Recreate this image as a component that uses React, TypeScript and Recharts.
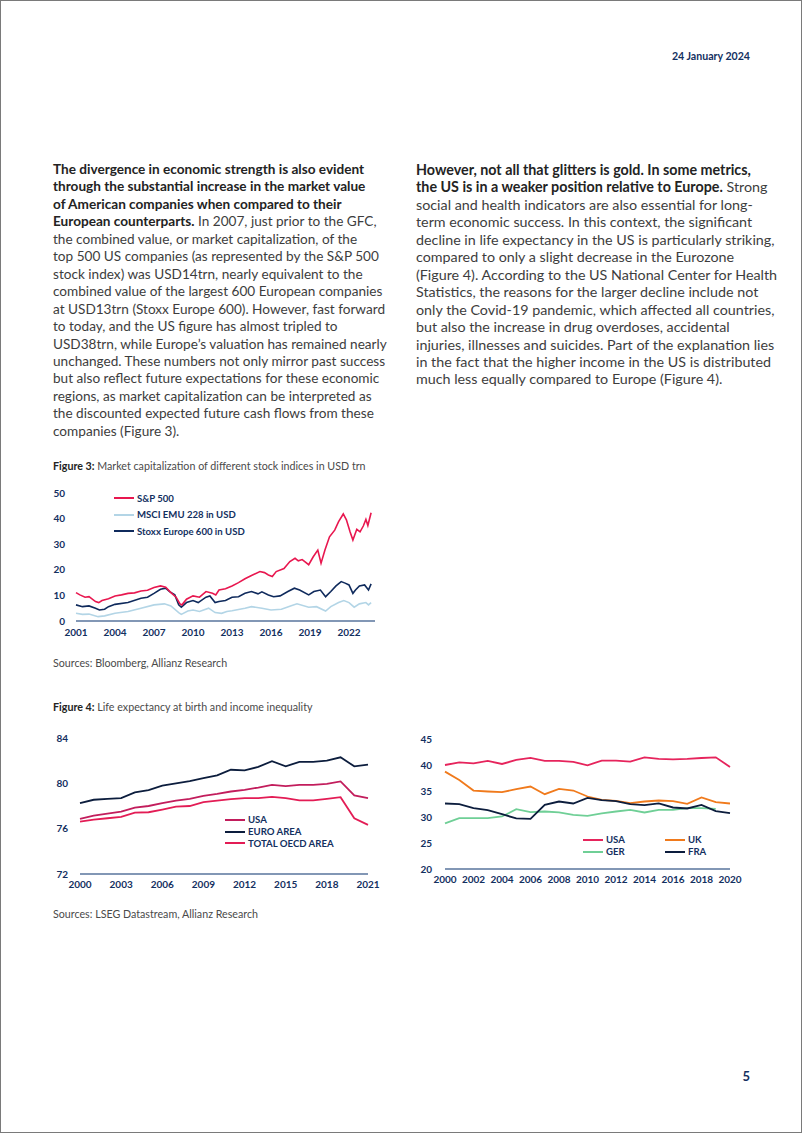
import React from 'react'
import { LineChart, Line, XAxis, YAxis } from 'recharts'

// Figure 3: market cap in USD trn, [year, value]
const spx: [number, number][] = [
  [2001.0, 11.1], [2001.3, 10.2], [2001.7, 9.3], [2002.0, 9.5], [2002.5, 7.6], [2002.75, 7.2],
  [2003.0, 8.0], [2003.5, 8.7], [2004.0, 9.8], [2004.5, 10.2], [2005.0, 10.8], [2005.5, 11.0],
  [2006.0, 11.7], [2006.5, 12.0], [2007.0, 13.1], [2007.5, 13.7], [2007.9, 13.2], [2008.3, 11.1],
  [2008.7, 9.3], [2009.0, 6.7], [2009.15, 6.3], [2009.5, 8.5], [2010.0, 9.8], [2010.5, 9.3],
  [2011.0, 11.5], [2011.5, 10.8], [2011.75, 10.2], [2012.0, 12.1], [2012.5, 12.6], [2013.0, 13.7],
  [2013.5, 15.0], [2014.0, 16.5], [2014.5, 17.8], [2015.15, 19.3], [2015.5, 18.9], [2015.8, 18.0],
  [2016.1, 17.4], [2016.4, 19.3], [2017.0, 20.5], [2017.45, 23.2], [2017.85, 24.5], [2018.1, 23.5],
  [2018.4, 24.0], [2018.6, 23.2], [2018.9, 22.0], [2019.25, 25.1], [2019.6, 27.7], [2019.85, 22.6],
  [2020.15, 27.7], [2020.5, 32.9], [2020.9, 35.5], [2021.2, 38.8], [2021.56, 41.8], [2021.8, 39.5],
  [2022.08, 34.9], [2022.3, 31.6], [2022.6, 35.8], [2022.85, 34.8], [2023.1, 37.1], [2023.3, 39.7],
  [2023.45, 37.3], [2023.7, 42.3],
]

const msci: [number, number][] = [
  [2001.0, 3.0], [2001.5, 2.6], [2002.0, 2.7], [2002.7, 1.7], [2003.2, 2.0], [2004.0, 3.0],
  [2005.0, 3.7], [2006.0, 5.0], [2007.0, 6.3], [2007.8, 6.7], [2008.3, 5.9], [2008.9, 3.3],
  [2009.1, 2.6], [2009.6, 3.9], [2010.0, 4.3], [2010.5, 3.7], [2011.2, 5.0], [2011.7, 3.3],
  [2012.2, 3.0], [2012.6, 3.7], [2013.0, 4.0], [2014.0, 5.0], [2014.5, 5.6], [2015.3, 5.0],
  [2016.0, 4.3], [2016.8, 4.6], [2017.5, 5.9], [2018.0, 6.7], [2018.9, 5.4], [2019.5, 5.6],
  [2020.2, 3.9], [2020.6, 5.6], [2021.2, 7.2], [2021.6, 8.0], [2022.0, 7.2], [2022.4, 5.4],
  [2022.8, 6.7], [2023.3, 7.2], [2023.5, 6.3], [2023.7, 7.2],
]

const stoxx: [number, number][] = [
  [2001.0, 6.3], [2001.5, 5.6], [2002.0, 5.9], [2002.5, 5.0], [2002.8, 4.3], [2003.2, 4.6],
  [2003.5, 5.6], [2004.0, 6.5], [2005.0, 7.2], [2006.0, 8.9], [2006.5, 9.3], [2007.0, 10.8],
  [2007.5, 12.4], [2007.9, 12.8], [2008.2, 11.5], [2008.6, 10.2], [2008.9, 6.3], [2009.1, 5.4],
  [2009.5, 7.2], [2010.0, 8.0], [2010.4, 7.2], [2011.0, 9.3], [2011.3, 9.8], [2011.7, 7.2],
  [2012.0, 7.6], [2012.5, 8.0], [2013.0, 9.3], [2013.5, 9.5], [2014.0, 10.8], [2014.5, 11.5],
  [2015.0, 10.6], [2015.3, 11.4], [2015.8, 10.2], [2016.2, 9.5], [2016.7, 9.8], [2017.3, 11.5],
  [2017.8, 12.8], [2018.2, 12.1], [2018.9, 10.2], [2019.3, 11.5], [2019.8, 12.1], [2020.2, 9.5],
  [2020.6, 11.5], [2021.0, 13.7], [2021.4, 15.4], [2021.7, 14.8], [2022.0, 14.1], [2022.3, 10.8],
  [2022.5, 12.1], [2022.8, 13.7], [2023.2, 14.1], [2023.5, 12.1], [2023.7, 14.5],
]

const fig3Ticks = [2001, 2004, 2007, 2010, 2013, 2016, 2019, 2022]

// Figure 4 left: life expectancy at birth
const lifeYears = [2000, 2001, 2002, 2003, 2004, 2005, 2006, 2007, 2008, 2009, 2010,
  2011, 2012, 2013, 2014, 2015, 2016, 2017, 2018, 2019, 2020, 2021]
const lifeUsa = [76.86, 77.16, 77.33, 77.5, 77.86, 78.0, 78.25, 78.48, 78.63, 78.9, 79.07,
  79.28, 79.43, 79.63, 79.87, 79.75, 79.87, 79.87, 79.96, 80.17, 78.93, 78.7]
const lifeEuro = [78.25, 78.55, 78.63, 78.7, 79.2, 79.4, 79.8, 80.0, 80.2, 80.45, 80.7,
  81.2, 81.15, 81.45, 81.95, 81.5, 81.9, 81.9, 82.0, 82.3, 81.5, 81.65]
const lifeOecd = [76.63, 76.8, 76.92, 77.04, 77.42, 77.45, 77.69, 77.95, 78.0, 78.34, 78.48,
  78.6, 78.7, 78.7, 78.8, 78.7, 78.5, 78.5, 78.63, 78.78, 76.92, 76.33]
const lifeTicksX = [2000, 2003, 2006, 2009, 2012, 2015, 2018, 2021]

// Figure 4 right: income inequality
const giniYears = [2000, 2001, 2002, 2003, 2004, 2005, 2006, 2007, 2008, 2009, 2010,
  2011, 2012, 2013, 2014, 2015, 2016, 2017, 2018, 2019, 2020]
const giniUsa = [40.0, 40.5, 40.33, 40.78, 40.2, 40.97, 41.35, 40.78, 40.78, 40.6, 39.95,
  40.84, 40.84, 40.65, 41.48, 41.16, 41.1, 41.16, 41.35, 41.48, 39.63]
const giniUk = [38.73, 37.13, 35.09, 34.9, 34.77, 35.35, 35.86, 34.39, 35.4, 35.09, 33.94,
  33.3, 33.1, 32.66, 32.98, 33.17, 33.04, 32.53, 33.75, 32.85, 32.6]
const giniGer = [28.76, 29.78, 29.78, 29.78, 30.1, 31.5, 30.93, 31.06, 30.87, 30.42, 30.23,
  30.68, 31.06, 31.38, 30.87, 31.38, 31.38, 31.7, 31.7, 31.57, null]
const giniFra = [32.6, 32.47, 31.7, 31.32, 30.55, 29.72, 29.65, 32.34, 32.98, 32.6, 33.68,
  33.24, 33.04, 32.47, 32.28, 32.6, 31.83, 31.64, 32.34, 31.12, 30.74]
const giniTicksX = [2000, 2002, 2004, 2006, 2008, 2010, 2012, 2014, 2016, 2018, 2020]

const leftText: [string, string][] = [
  ['The divergence in economic strength is also evident', ''],
  ['through the substantial increase in the market value', ''],
  ['of American companies when compared to their', ''],
  ['European counterparts.', ' In 2007, just prior to the GFC,'],
  ['', 'the combined value, or market capitalization, of the'],
  ['', 'top 500 US companies (as represented by the S&P 500'],
  ['', 'stock index) was USD14trn, nearly equivalent to the'],
  ['', 'combined value of the largest 600 European companies'],
  ['', 'at USD13trn (Stoxx Europe 600). However, fast forward'],
  ['', 'to today, and the US figure has almost tripled to'],
  ['', 'USD38trn, while Europe\u2019s valuation has remained nearly'],
  ['', 'unchanged. These numbers not only mirror past success'],
  ['', 'but also reflect future expectations for these economic'],
  ['', 'regions, as market capitalization can be interpreted as'],
  ['', 'the discounted expected future cash flows from these'],
  ['', 'companies (Figure 3).'],
]

const rightText: [string, string][] = [
  ['However, not all that glitters is gold. In some metrics,', ''],
  ['the US is in a weaker position relative to Europe.', ' Strong'],
  ['', 'social and health indicators are also essential for long-'],
  ['', 'term economic success. In this context, the significant'],
  ['', 'decline in life expectancy in the US is particularly striking,'],
  ['', 'compared to only a slight decrease in the Eurozone'],
  ['', '(Figure 4). According to the US National Center for Health'],
  ['', 'Statistics, the reasons for the larger decline include not'],
  ['', 'only the Covid-19 pandemic, which affected all countries,'],
  ['', 'but also the increase in drug overdoses, accidental'],
  ['', 'injuries, illnesses and suicides. Part of the explanation lies'],
  ['', 'in the fact that the higher income in the US is distributed'],
  ['', 'much less equally compared to Europe (Figure 4).'],
]

const NAVY = '#13305f'
const AXIS = '#58749c'
const FONT = 'Lato, sans-serif'
const tickStyle = { fill: NAVY, fontSize: 10, fontWeight: 700, fontFamily: FONT }

function Paragraph({ lines, left, top, size }: { lines: [string, string][]; left: number; top: number; size: number }) {
  return (
    <div style={{ position: 'absolute', left, top, fontSize: size, lineHeight: '17.45px', color: '#3d3d3d' }}>
      {lines.map(([b, r], i) => (
        <div key={i} style={{ whiteSpace: 'nowrap' }}>
          {b && <span style={{ fontWeight: 700, color: '#232323' }}>{b}</span>}
          {r}
        </div>
      ))}
    </div>
  )
}

type Item = { name: string; color: string }

function LegendBox({ items, left, top, cols = 1, colWidth = 80, rowHeight = 11.6, size = 9.6 }:
  { items: Item[]; left: number; top: number; cols?: number; colWidth?: number; rowHeight?: number; size?: number }) {
  return (
    <div style={{ position: 'absolute', left, top, display: 'grid', gridTemplateColumns: `repeat(${cols}, ${colWidth}px)` }}>
      {items.map(it => (
        <div key={it.name} style={{ display: 'flex', alignItems: 'center', height: rowHeight, fontSize: size, fontWeight: 700, color: NAVY, fontFamily: FONT, whiteSpace: 'nowrap' }}>
          <span style={{ display: 'inline-block', width: 20, height: 2, background: it.color, marginRight: 3 }} />
          {it.name}
        </div>
      ))}
    </div>
  )
}

const toPts = (arr: [number, number][]) => arr.map(([t, v]) => ({ t, v }))

function Figure3() {
  return (
    <LineChart width={345} height={170} margin={{ top: 13, right: 10, bottom: 9, left: 0 }}>
      <XAxis dataKey="t" type="number" domain={[2001, 2024]} ticks={fig3Ticks} allowDuplicatedCategory={false}
        tick={tickStyle} tickLine={false} tickSize={0} tickMargin={8} height={20}
        axisLine={{ stroke: AXIS, strokeWidth: 1.5 }} interval={0} />
      <YAxis type="number" domain={[0, 50]} ticks={[0, 10, 20, 30, 40, 50]} width={36}
        tick={tickStyle} tickLine={false} tickSize={0} tickMargin={11} axisLine={false} />
      <Line data={toPts(msci)} dataKey="v" name="MSCI EMU 228 in USD" stroke="#b3d5e6" strokeWidth={1.6} dot={false} isAnimationActive={false} />
      <Line data={toPts(stoxx)} dataKey="v" name="Stoxx Europe 600 in USD" stroke="#0f2a5c" strokeWidth={1.6} dot={false} isAnimationActive={false} />
      <Line data={toPts(spx)} dataKey="v" name="S&P 500" stroke="#e8174f" strokeWidth={1.6} dot={false} isAnimationActive={false} />
    </LineChart>
  )
}

function FigureLife() {
  const data = lifeYears.map((y, i) => ({ y, usa: lifeUsa[i], euro: lifeEuro[i], oecd: lifeOecd[i] }))
  return (
    <LineChart width={340} height={170} data={data} margin={{ top: 13, right: 12, bottom: 0, left: 0 }}>
      <XAxis dataKey="y" type="number" domain={[2000, 2021]} ticks={lifeTicksX} interval={0}
        tick={tickStyle} tickLine={false} tickSize={0} tickMargin={7} height={21}
        axisLine={{ stroke: AXIS, strokeWidth: 1.5 }} />
      <YAxis type="number" domain={[72, 84]} ticks={[72, 76, 80, 84]} width={40}
        tick={tickStyle} tickLine={false} tickSize={0} tickMargin={12} axisLine={false} />
      <Line dataKey="oecd" stroke="#e31c55" strokeWidth={1.8} dot={false} isAnimationActive={false} />
      <Line dataKey="usa" stroke="#c21d5c" strokeWidth={1.8} dot={false} isAnimationActive={false} />
      <Line dataKey="euro" stroke="#0c1d3d" strokeWidth={1.8} dot={false} isAnimationActive={false} />
    </LineChart>
  )
}

function FigureGini() {
  const data = giniYears.map((y, i) => ({ y, usa: giniUsa[i], uk: giniUk[i], ger: giniGer[i], fra: giniFra[i] }))
  return (
    <LineChart width={340} height={175} data={data} margin={{ top: 14, right: 15, bottom: 11, left: 0 }}>
      <XAxis dataKey="y" type="number" domain={[2000, 2020]} ticks={giniTicksX} interval={0}
        tick={tickStyle} tickLine={false} tickSize={0} tickMargin={7} height={20}
        axisLine={{ stroke: AXIS, strokeWidth: 1.5 }} />
      <YAxis type="number" domain={[20, 45]} ticks={[20, 25, 30, 35, 40, 45]} width={40}
        tick={tickStyle} tickLine={false} tickSize={0} tickMargin={13} axisLine={false} />
      <Line dataKey="ger" stroke="#6fcf96" strokeWidth={1.8} dot={false} isAnimationActive={false} />
      <Line dataKey="uk" stroke="#f07a1c" strokeWidth={1.8} dot={false} isAnimationActive={false} />
      <Line dataKey="fra" stroke="#0c1d3d" strokeWidth={1.8} dot={false} isAnimationActive={false} />
      <Line dataKey="usa" stroke="#e6245c" strokeWidth={1.8} dot={false} isAnimationActive={false} />
    </LineChart>
  )
}

const small = { position: 'absolute' as const, fontSize: 10.7, color: '#4a4a4a', whiteSpace: 'nowrap' as const }

const fig3Legend: Item[] = [
  { name: 'S&P 500', color: '#e8174f' },
  { name: 'MSCI EMU 228 in USD', color: '#b3d5e6' },
  { name: 'Stoxx Europe 600 in USD', color: '#0f2a5c' },
]
const lifeLegend: Item[] = [
  { name: 'USA', color: '#c21d5c' },
  { name: 'EURO AREA', color: '#0c1d3d' },
  { name: 'TOTAL OECD AREA', color: '#e31c55' },
]
const giniLegend: Item[] = [
  { name: 'USA', color: '#e6245c' },
  { name: 'UK', color: '#f07a1c' },
  { name: 'GER', color: '#6fcf96' },
  { name: 'FRA', color: '#0c1d3d' },
]

export default function App() {
  return (
    <div style={{ position: 'relative', width: 800, height: 1131, border: '1px solid #7a7a7a', background: '#fff', fontFamily: FONT, overflow: 'hidden' }}>
      <style>{'body{margin:0}'}</style>
      <div style={{ position: 'absolute', right: 51, top: 49, fontSize: 10.6, fontWeight: 700, color: NAVY }}>24 January 2024</div>

      <Paragraph lines={leftText} left={52} top={160} size={13.6} />
      <Paragraph lines={rightText} left={415} top={160} size={14.3} />

      <div style={{ ...small, left: 52, top: 458 }}>
        <span style={{ fontWeight: 700, color: '#232323' }}>Figure 3:</span> Market capitalization of different stock indices in USD trn
      </div>
      <div style={{ position: 'absolute', left: 39, top: 479 }}>
        <Figure3 />
      </div>
      <LegendBox items={fig3Legend} left={113} top={489} colWidth={150} rowHeight={16.5} />
      <div style={{ ...small, left: 52, top: 655 }}>Sources: Bloomberg, Allianz Research</div>

      <div style={{ ...small, left: 52, top: 699 }}>
        <span style={{ fontWeight: 700, color: '#232323' }}>Figure 4:</span> Life expectancy at birth and income inequality
      </div>
      <div style={{ position: 'absolute', left: 39, top: 724 }}>
        <FigureLife />
      </div>
      <LegendBox items={lifeLegend} left={224} top={813} colWidth={130} rowHeight={11.7} />
      <div style={{ position: 'absolute', left: 404, top: 724 }}>
        <FigureGini />
      </div>
      <LegendBox items={giniLegend} left={582} top={833} cols={2} colWidth={82} rowHeight={11.7} />
      <div style={{ ...small, left: 52, top: 906 }}>Sources: LSEG Datastream, Allianz Research</div>

      <div style={{ position: 'absolute', right: 51, top: 1067, fontSize: 13, fontWeight: 700, color: NAVY }}>5</div>
    </div>
  )
}
